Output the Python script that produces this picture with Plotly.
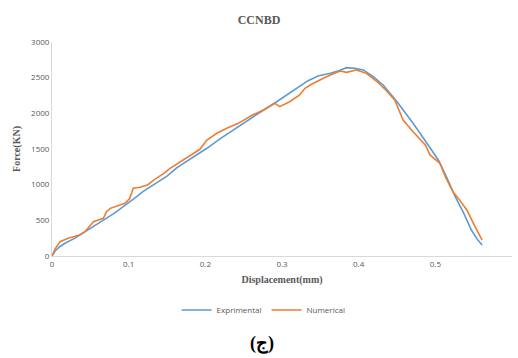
import plotly.graph_objects as go

# Experimental force-displacement curve
exp_disp = [0, 0.004, 0.01, 0.017, 0.03, 0.047, 0.06, 0.069, 0.08, 0.089, 0.1, 0.11,
            0.119, 0.137, 0.15, 0.163, 0.18, 0.202, 0.22, 0.241, 0.26, 0.275,
            0.293, 0.31, 0.325, 0.334, 0.347, 0.363, 0.375, 0.384, 0.395, 0.406,
            0.419, 0.432, 0.45, 0.471, 0.489, 0.504, 0.515, 0.526, 0.537, 0.547,
            0.555, 0.561]
exp_force = [0, 70, 130, 178, 250, 364, 450, 515, 590, 660, 745, 830,
             905, 1030, 1120, 1240, 1360, 1510, 1650, 1800, 1940, 2040,
             2163, 2290, 2400, 2458, 2524, 2561, 2600, 2640, 2630, 2608,
             2514, 2397, 2163, 1860, 1580, 1346, 1100, 831, 600, 364,
             230, 154]

# Numerical force-displacement curve
num_disp = [0, 0.004, 0.0104, 0.021, 0.035, 0.043, 0.054, 0.067, 0.071, 0.076, 0.085,
            0.095, 0.101, 0.106, 0.115, 0.125, 0.134, 0.145, 0.154, 0.167, 0.184,
            0.193, 0.202, 0.215, 0.228, 0.243, 0.262, 0.276, 0.291, 0.297, 0.31,
            0.323, 0.33, 0.339, 0.354, 0.363, 0.376, 0.384, 0.397, 0.41, 0.424,
            0.435, 0.447, 0.458, 0.471, 0.487, 0.493, 0.506, 0.513, 0.523, 0.532,
            0.541, 0.55, 0.561]
num_force = [0, 100, 200, 248, 290, 341, 481, 528, 622, 668, 700,
             738, 800, 949, 963, 1000, 1075, 1150, 1229, 1322, 1440,
             1496, 1626, 1720, 1790, 1860, 1980, 2047, 2140, 2094, 2163,
             2257, 2350, 2411, 2491, 2538, 2594, 2575, 2608, 2561, 2444,
             2330, 2187, 1907, 1743, 1556, 1416, 1300, 1112, 901, 780,
             645, 450, 224]

x_ticks = [0, 0.1, 0.2, 0.3, 0.4, 0.5, 0.6]
x_labels = ["0", "0.1", "0.2", "0.3", "0.4", "0.5", "0.6"]
y_ticks = [0, 500, 1000, 1500, 2000, 2500, 3000]

GRAY = "#595959"
SANS = "Open Sans, Liberation Sans, sans-serif"
SERIF = "Liberation Serif, DejaVu Serif, serif"

fig = go.Figure()
fig.add_trace(go.Scatter(x=exp_disp, y=exp_force, mode="lines", name="Exprimental",
                         line=dict(color="#5B9BD5", width=1.6)))
fig.add_trace(go.Scatter(x=num_disp, y=num_force, mode="lines", name="Numerical",
                         line=dict(color="#ED7D31", width=1.6)))

fig.update_layout(
    width=518, height=358,
    margin=dict(l=52, r=6, t=42, b=102),
    paper_bgcolor="white", plot_bgcolor="white",
    title=dict(text="<b>CCNBD</b>", x=0.5, xanchor="center", y=1 - 20 / 358,
               yanchor="middle", yref="container",
               font=dict(family=SERIF, size=12, color=GRAY)),
    xaxis=dict(range=[0, 0.6], tickvals=x_ticks, ticktext=x_labels,
               showgrid=False, zeroline=False, showline=True,
               linecolor="#D9D9D9", linewidth=1, ticks="",
               tickfont=dict(family=SANS, size=8, color=GRAY),
               title=dict(text="<b>Displacement(mm)</b>", standoff=8,
                          font=dict(family=SERIF, size=10, color=GRAY))),
    yaxis=dict(range=[0, 3000], tickvals=y_ticks,
               showgrid=False, zeroline=False, showline=True,
               linecolor="#D9D9D9", linewidth=1, ticks="",
               tickfont=dict(family=SANS, size=8, color=GRAY),
               title=dict(text="<b>Force(KN)</b>", standoff=8,
                          font=dict(family=SERIF, size=10, color=GRAY))),
    legend=dict(orientation="h", x=0.46, xanchor="center", y=-(310 - 256) / 214,
                yanchor="middle", yref="paper",
                font=dict(family=SANS, size=8, color=GRAY),
                itemwidth=30, bgcolor="rgba(0,0,0,0)"),
)

# panel label below the legend, positioned relative to the plot area
fig.add_annotation(text="<b>(ج)</b>", x=(262 - 52) / 460, xref="paper",
                   y=-(343 - 256) / 214, yref="paper", showarrow=False,
                   xanchor="center", yanchor="middle",
                   font=dict(family=SERIF, size=18, color="black"))

fig.write_html("out.html")
